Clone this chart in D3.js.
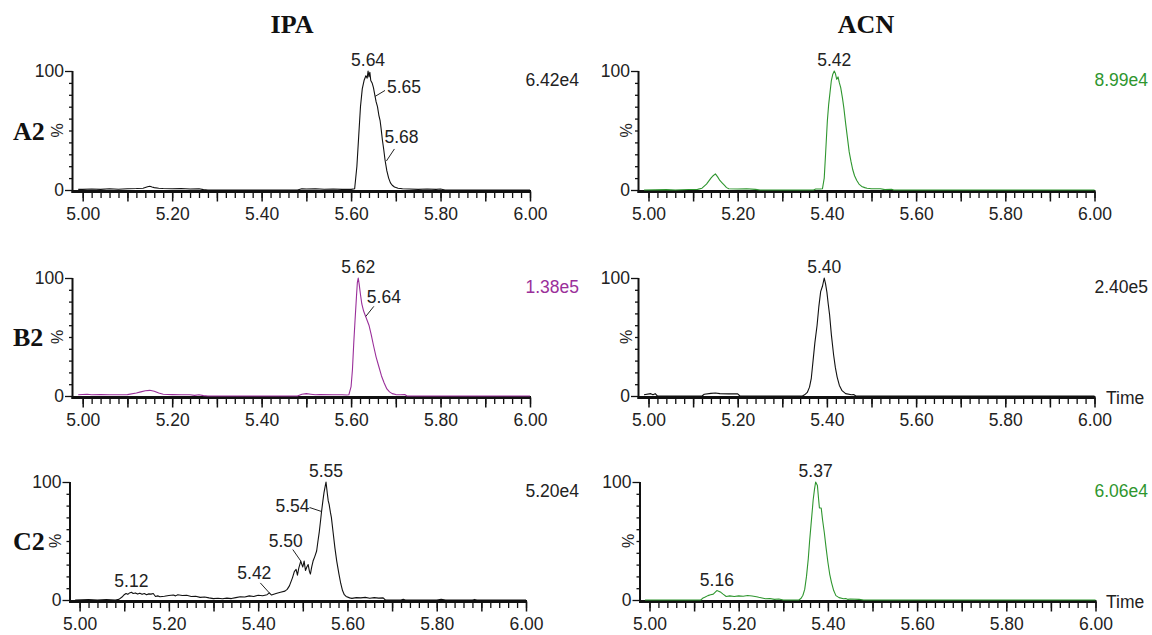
<!DOCTYPE html>
<html>
<head>
<meta charset="utf-8">
<script src="https://cdn.jsdelivr.net/npm/d3@7"></script>
<style>
body { margin: 0; background: #fff; }
svg text { font-family: "Liberation Sans", Arial, sans-serif; font-size: 17.5px; fill: #222; }
svg text.big { font-family: "Liberation Serif", "Times New Roman", serif; font-weight: bold; font-size: 26px; fill: #111; }
</style>
</head>
<body>
<svg id="chart" width="1152" height="635"></svg>
<script>
// ---- data ----
var solvents = ["IPA", "ACN"];
var samples = ["A2", "B2", "C2"];
var intensities = [["6.42e4", "8.99e4"], ["1.38e5", "2.40e5"], ["5.20e4", "6.06e4"]];
var traceColors = [["black", "green"], ["purple", "black"], ["black", "green"]];
var timeTicks = [5.0, 5.1, 5.2, 5.3, 5.4, 5.5, 5.6, 5.7, 5.8, 5.9, 6.0];
var timeLabels = ["5.00", "", "5.20", "", "5.40", "", "5.60", "", "5.80", "", "6.00"];
var pctTicks = [0, 100];
var pctMinor = [10, 20, 30, 40, 50, 60, 70, 80, 90];

// [time, % intensity]
var a2Ipa = [[4.99,0.5],[5.00,0.5],[5.02,0.8],[5.04,0.5],[5.06,1.0],[5.08,0.6],[5.10,1.0],[5.12,1.2],[5.135,1.5],[5.145,2.8],[5.15,3.2],[5.155,2.5],[5.16,2.0],[5.17,1.5],[5.18,1.2],[5.20,1.0],[5.22,1.2],[5.24,0.9],[5.26,1.0],[5.27,0.3],[5.28,0],[5.48,0],[5.49,1.0],[5.50,0.8],[5.52,1.0],[5.54,0.6],[5.56,0.8],[5.58,0.5],[5.60,0.5],[5.608,1],[5.613,20],[5.617,45],[5.621,70],[5.625,85],[5.629,92],[5.633,96],[5.636,94],[5.638,100],[5.640,95],[5.642,99],[5.644,92],[5.647,90],[5.650,86],[5.653,80],[5.656,74],[5.659,70],[5.662,63],[5.665,58],[5.667,52],[5.670,42],[5.673,34],[5.676,25],[5.680,16],[5.684,10],[5.688,6],[5.692,4],[5.697,2.5],[5.705,1.5],[5.715,1],[5.73,0.8],[5.75,0.5],[5.77,0.8],[5.79,0.5],[5.80,0.8],[5.81,0],[6.00,0]];
var a2Acn = [[4.99,0],[5.04,0.3],[5.06,0],[5.09,0.4],[5.11,0.5],[5.12,1.5],[5.13,5],[5.14,10],[5.145,12],[5.15,13.5],[5.155,11],[5.16,8],[5.165,6],[5.17,4],[5.175,2],[5.18,1],[5.20,0.8],[5.22,1],[5.24,0.5],[5.25,0],[5.37,0],[5.375,0.8],[5.385,0.8],[5.39,1],[5.394,10],[5.397,30],[5.401,58],[5.404,72],[5.407,82],[5.410,92],[5.413,97],[5.4165,100],[5.419,98],[5.422,93],[5.425,95],[5.428,90],[5.431,86],[5.435,77],[5.438,69],[5.442,56],[5.446,44],[5.450,32],[5.454,24],[5.458,17],[5.462,12],[5.467,8],[5.472,5],[5.478,3],[5.485,2],[5.49,1.5],[5.50,1],[5.52,1],[5.53,0.3],[5.545,0.6],[5.55,0],[6.00,0]];
var b2Ipa = [[4.99,1],[5.01,1.5],[5.02,1],[5.04,1.2],[5.06,1],[5.08,1],[5.10,1.2],[5.12,2.5],[5.13,3.5],[5.14,4.5],[5.15,4.8],[5.16,4],[5.17,2.5],[5.18,1.5],[5.20,1.2],[5.22,1],[5.24,1],[5.25,0.5],[5.26,1],[5.27,0.3],[5.28,0],[5.48,0],[5.49,1.5],[5.50,2],[5.51,1.5],[5.52,1],[5.53,1.2],[5.56,1],[5.58,1],[5.59,0.8],[5.595,1],[5.600,8],[5.603,22],[5.606,45],[5.609,65],[5.612,84],[5.614,96],[5.616,100],[5.618,95],[5.621,86],[5.624,78],[5.628,72],[5.632,68],[5.636,64],[5.640,60],[5.645,52],[5.650,43],[5.656,33],[5.662,25],[5.668,17],[5.674,11],[5.680,6],[5.686,3.5],[5.692,2],[5.70,1.2],[5.71,1],[5.72,1.2],[5.725,0],[6.00,0]];
var b2Acn = [[4.99,1],[5.005,2],[5.01,1],[5.015,2],[5.02,0],[5.12,0],[5.125,1.5],[5.14,2.2],[5.15,2.5],[5.16,2],[5.18,1.8],[5.20,1.8],[5.205,0],[5.345,0],[5.35,1],[5.356,3],[5.361,7.5],[5.365,15],[5.369,30],[5.373,45],[5.378,60],[5.382,76],[5.386,88.5],[5.390,93],[5.394,100],[5.397,95],[5.400,88],[5.403,78],[5.406,69],[5.410,52],[5.415,35],[5.419,24],[5.423,16],[5.428,9],[5.434,4.5],[5.442,2],[5.455,1],[5.46,1.2],[5.465,0],[6.00,0]];
var c2Ipa = [[4.99,0],[5.02,0.3],[5.04,0],[5.06,0.3],[5.08,0],[5.088,0.5],[5.095,2.5],[5.100,4.5],[5.104,5.5],[5.108,4.8],[5.112,6],[5.116,6.5],[5.120,5.5],[5.125,6],[5.13,5],[5.135,5.8],[5.14,4.8],[5.145,5.5],[5.15,4.5],[5.155,5.2],[5.16,5.0],[5.165,5.5],[5.17,3],[5.175,3.5],[5.18,2.8],[5.19,3.2],[5.20,3.8],[5.21,4.2],[5.215,3.5],[5.22,4.5],[5.23,3.8],[5.24,4],[5.25,3],[5.26,3.2],[5.27,2.2],[5.28,2.5],[5.29,1.8],[5.30,1.2],[5.31,1.5],[5.32,1],[5.33,1.6],[5.34,1.2],[5.35,2],[5.36,2.8],[5.37,2.5],[5.38,3.5],[5.39,3],[5.40,4],[5.41,3.6],[5.42,4.5],[5.425,6],[5.43,4.2],[5.44,5.5],[5.45,6.5],[5.46,7.5],[5.465,9],[5.47,12],[5.477,19],[5.481,24],[5.485,26],[5.488,21],[5.491,27],[5.4955,33],[5.498,30],[5.500,28],[5.503,33],[5.506,25],[5.509,28],[5.512,30],[5.515,24],[5.517,22],[5.520,28],[5.523,33],[5.527,37],[5.531,41.5],[5.534,50],[5.537,58],[5.540,68],[5.542,75],[5.545,84],[5.5475,91],[5.550,96],[5.552,100],[5.555,90],[5.557,84],[5.559,81],[5.562,74],[5.564,70],[5.568,57],[5.572,44],[5.576,33],[5.581,22],[5.585,14],[5.589,8],[5.593,4.5],[5.597,3],[5.605,1.8],[5.61,1.4],[5.62,2],[5.63,1.8],[5.64,2.2],[5.65,1.5],[5.66,2],[5.67,1.6],[5.68,1.8],[5.685,0],[5.72,0],[5.725,0.6],[5.73,0],[5.80,0],[5.81,0.5],[5.82,0],[5.88,0],[5.885,0.5],[5.89,0],[6.00,0]];
var c2Acn = [[4.99,0],[5.115,0],[5.119,1.4],[5.125,2.5],[5.131,3.7],[5.137,4.5],[5.143,5],[5.147,6.5],[5.151,8],[5.155,7.5],[5.16,6.5],[5.165,5],[5.172,3],[5.18,3.5],[5.19,3],[5.20,3.5],[5.21,3.2],[5.22,3.8],[5.23,3.4],[5.24,2.8],[5.245,2.3],[5.255,1.5],[5.26,1],[5.27,1.2],[5.28,0.5],[5.29,0.8],[5.30,0],[5.335,0],[5.340,1.5],[5.344,4],[5.348,9],[5.352,20],[5.356,35],[5.359,50],[5.362,63],[5.365,76],[5.367,85],[5.370,94],[5.3725,100],[5.3765,97],[5.379,86],[5.381,78],[5.385,78],[5.388,68],[5.392,57],[5.396,44],[5.400,32],[5.404,22],[5.408,15],[5.413,8],[5.418,3.7],[5.425,2],[5.435,1],[5.44,1.3],[5.445,0.5],[5.45,0.8],[5.47,0.5],[5.48,0],[6.00,0]];
var traces = [[a2Ipa, a2Acn], [b2Ipa, b2Acn], [c2Ipa, c2Acn]];

// peak labels: [text, time, %]
var a2IpaPeaks = [["5.64", 5.638, 100], ["5.65", 5.6535, 78.6], ["5.68", 5.679, 24.4]];
var a2AcnPeaks = [["5.42", 5.4165, 100]];
var b2IpaPeaks = [["5.62", 5.616, 100], ["5.64", 5.633, 67.5]];
var b2AcnPeaks = [["5.40", 5.394, 100]];
var c2IpaPeaks = [["5.55", 5.552, 100], ["5.54", 5.542, 75], ["5.50", 5.4955, 33], ["5.42", 5.425, 6], ["5.12", 5.116, 6.5]];
var c2AcnPeaks = [["5.37", 5.3725, 100], ["5.16", 5.151, 8]];
var peaks = [[a2IpaPeaks, a2AcnPeaks], [b2IpaPeaks, b2AcnPeaks], [c2IpaPeaks, c2AcnPeaks]];

// ---- layout ----
var palette = { black: "#111", green: "#2f962f", purple: "#9a2f9a" };
var labelInk = { black: "#222", green: "#2f962f", purple: "#9a2f9a" };
var rowFrames = [{ top: 71, bot: 190 }, { top: 278, bot: 396 }, { top: 482, bot: 600 }];
var colFrames = [
  [{ ax: 72.5, x5: 82.7, x6: 530 }, { ax: 638.5, x5: 648.5, x6: 1094.5 }],
  [{ ax: 72.5, x5: 82.7, x6: 530 }, { ax: 638.5, x5: 648.5, x6: 1094.5 }],
  [{ ax: 70, x5: 79.6, x6: 526 }, { ax: 640, x5: 649.5, x6: 1095.5 }]
];
var pctOffset = [-15, -12];
var intensityRight = [579, 1148];
var titleX = [292, 866];
// callouts with leader lines, offsets from the point on the trace
var callouts = {
  "0-0-5.65": { tx: 12, ty: -3, anchor: "start", lx: 10, ly: -6 },
  "0-0-5.68": { tx: -2, ty: -18, anchor: "start", lx: 8, ly: -12 },
  "1-0-5.64": { tx: 1, ty: -13.5, anchor: "start", lx: 8, ly: -10 },
  "2-0-5.54": { tx: -12, ty: 0, anchor: "end", lx: -12, ly: -4 },
  "2-0-5.50": { tx: -15, ty: -14, anchor: "middle", lx: -8, ly: -11.5 },
  "2-0-5.42": { tx: -15, ty: -14, anchor: "middle", lx: -9, ly: -10 }
};

var svg = d3.select("#chart");

solvents.forEach(function(s, c) {
  svg.append("text").attr("class", "big")
    .attr("x", titleX[c]).attr("y", 33)
    .attr("text-anchor", "middle").text(s);
});

samples.forEach(function(sample, r) {
  var rf = rowFrames[r];
  svg.append("text").attr("class", "big")
    .attr("x", 13).attr("y", (rf.top + rf.bot) / 2 + 9)
    .text(sample);

  solvents.forEach(function(solvent, c) {
    var f = colFrames[r][c];
    var x = d3.scaleLinear().domain([5, 6]).range([f.x5, f.x6]);
    var y = d3.scaleLinear().domain([0, 100]).range([rf.bot, rf.top]);
    var g = svg.append("g");
    var col = traceColors[r][c];

    // minor time ticks
    var minor = d3.range(0, 51).map(function(i) { return 5 + i * 0.02; });
    g.append("g").attr("transform", "translate(0," + (rf.bot + 1.5) + ")")
      .call(d3.axisBottom(x).tickValues(minor).tickSize(6.5).tickFormat(""))
      .call(function(a) { a.select(".domain").remove(); a.selectAll("line").attr("stroke", "#111").attr("stroke-width", 1.3); });
    // major time ticks with labels
    g.append("g").attr("transform", "translate(0," + (rf.bot + 1.5) + ")")
      .call(d3.axisBottom(x).tickValues(timeTicks).tickSize(10).tickPadding(6)
        .tickFormat(function(d, i) { return timeLabels[i]; }))
      .call(function(a) {
        a.select(".domain").remove();
        a.selectAll("line").attr("stroke", "#111").attr("stroke-width", 1.5);
        a.selectAll("text").attr("font-size", null).attr("font-family", null).style("fill", "#222");
      });

    // % axis
    g.append("g").attr("transform", "translate(" + f.ax + ",0)")
      .call(d3.axisLeft(y).tickValues(pctMinor).tickSize(3.5).tickFormat(""))
      .call(function(a) { a.select(".domain").remove(); a.selectAll("line").attr("stroke", "#111").attr("stroke-width", 1.3); });
    g.append("g").attr("transform", "translate(" + f.ax + ",0)")
      .call(d3.axisLeft(y).tickValues(pctTicks).tickSize(7.5).tickPadding(1))
      .call(function(a) {
        a.select(".domain").remove();
        a.selectAll("line").attr("stroke", "#111").attr("stroke-width", 1.3);
        a.selectAll("text").attr("font-size", null).attr("font-family", null).style("fill", "#222");
      });

    // axis lines
    g.append("line").attr("x1", f.ax).attr("x2", f.ax)
      .attr("y1", rf.top).attr("y2", rf.bot + 3)
      .attr("stroke", "#111").attr("stroke-width", 2);
    g.append("line").attr("x1", f.ax - 1).attr("x2", f.x6 + 1)
      .attr("y1", rf.bot + 1.5).attr("y2", rf.bot + 1.5)
      .attr("stroke", "#111").attr("stroke-width", 3);

    g.append("text")
      .attr("transform", "translate(" + (f.ax + pctOffset[c]) + "," + (rf.top + rf.bot) / 2 + ") rotate(-90)")
      .attr("text-anchor", "middle").attr("dy", "0.35em")
      .style("font-size", "16px").text("%");

    // trace
    var line = d3.line().x(function(d) { return x(d[0]); }).y(function(d) { return y(d[1]); });
    g.append("path").datum(traces[r][c])
      .attr("d", line).attr("fill", "none")
      .attr("stroke", palette[col]).attr("stroke-width", 1.1)
      .attr("stroke-linejoin", "round");

    // intensity
    g.append("text").attr("x", intensityRight[c]).attr("y", rf.top + 15)
      .attr("text-anchor", "end").style("fill", labelInk[col])
      .text(intensities[r][c]);

    if (r > 0 && c === 1) {
      g.append("text").attr("x", 1106).attr("y", rf.bot + 7.5).text("Time");
    }

    // peak labels
    peaks[r][c].forEach(function(p) {
      var px = x(p[1]), py = y(p[2]);
      var co = callouts[r + "-" + c + "-" + p[0]];
      if (co) {
        g.append("line").attr("x1", px).attr("y1", py)
          .attr("x2", px + co.lx).attr("y2", py + co.ly)
          .attr("stroke", "#222").attr("stroke-width", 1);
        g.append("text").attr("x", px + co.tx).attr("y", py + co.ty)
          .attr("text-anchor", co.anchor).text(p[0]);
      } else {
        g.append("text").attr("x", px).attr("y", py - 5)
          .attr("text-anchor", "middle").text(p[0]);
      }
    });
  });
});
</script>
</body>
</html>
